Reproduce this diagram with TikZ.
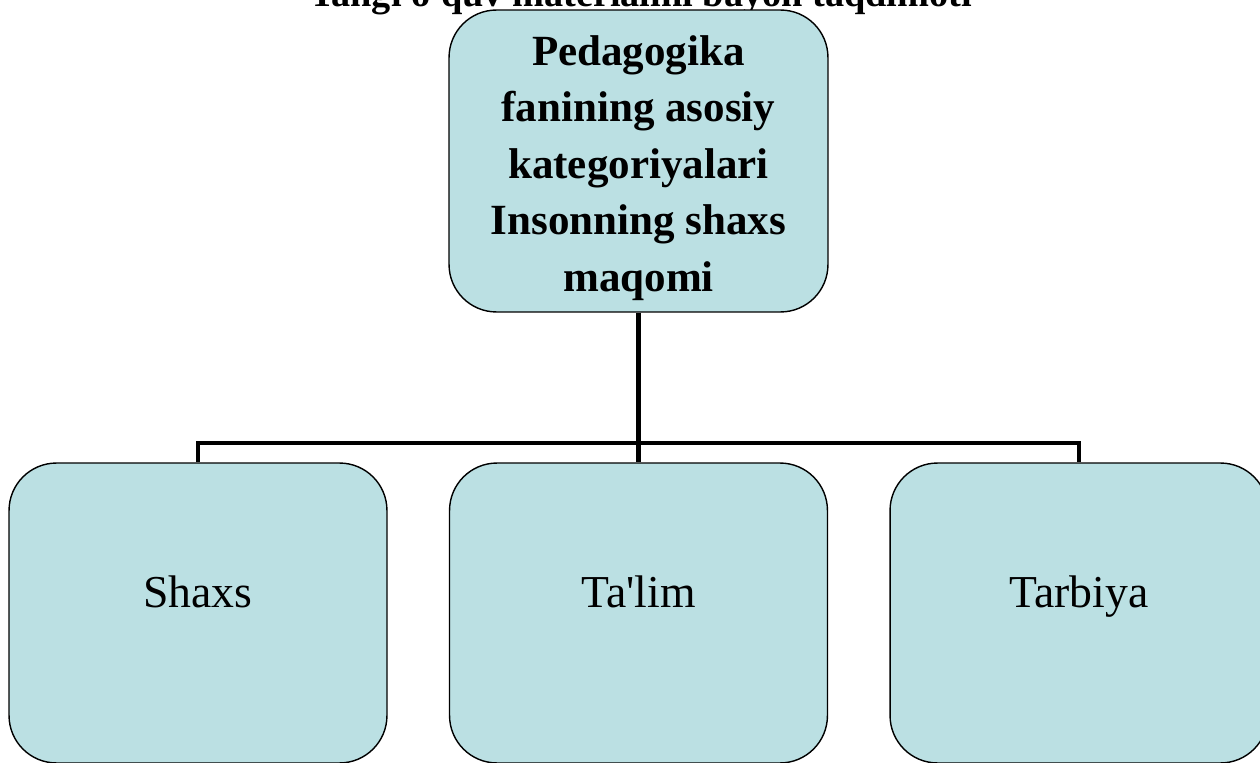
\documentclass[tikz,border=0pt]{standalone}
\usepackage{fontspec}
\setmainfont{Liberation Serif}
\definecolor{boxfill}{HTML}{BBE0E3}
\tikzset{
  catbox/.style={draw=black, line width=0.8pt, fill=boxfill, rounded corners=0.95cm,
    minimum width=7.56cm, minimum height=6cm, inner sep=0pt},
  cattext/.style={font=\fontsize{26}{30}\selectfont, anchor=base},
  link/.style={line width=2.4pt}
}
\begin{document}
\begin{tikzpicture}[x=0.02cm,y=-0.02cm]
\useasboundingbox (0,0) rectangle (1260,763);
\clip (0,0) rectangle (1260,763);
\node[anchor=base, font=\bfseries\fontsize{21.8}{25}\selectfont] (title) at (640,7) {Yangi o\textquotesingle quv materialini bayon taqdimoti};
\node[catbox, minimum width=7.58cm, minimum height=6.04cm] (top) at (638.5,161) {};
\node[align=center, inner sep=0pt, font=\bfseries\fontsize{24.5}{32.2}\selectfont] (toptext) at (638.5,168) {Pedagogika\\fanining asosiy\\kategoriyalari\\Insonning shaxs\\maqomi};
\node[catbox] (a) at (198,613) {};
\node[catbox] (b) at (638.5,613) {};
\node[catbox] (c) at (1079,613) {};
\node[cattext] (ta) at (198,607) {Shaxs};
\node[cattext] (tb) at (638.5,607) {Ta\textquotesingle lim};
\node[cattext] (tc) at (1079,607) {Tarbiya};
\coordinate (j) at (638.5,443);
\draw[link] (top.south) -- (j);
\draw[link] (j) -- (b.north);
\draw[link] (a.north) |- (j) -| (c.north);
\end{tikzpicture}
\end{document}
